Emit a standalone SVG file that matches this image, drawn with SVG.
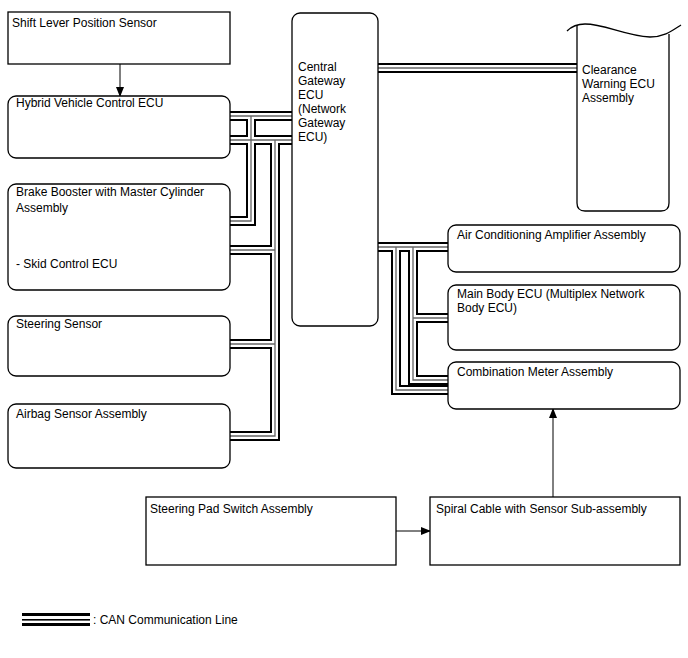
<svg xmlns="http://www.w3.org/2000/svg" width="688" height="658" viewBox="0 0 688 658">
<style>
text{font-family:"Liberation Sans",Arial,sans-serif;font-size:12px;fill:#000}
.box{fill:#fff;stroke:#000;stroke-width:1.3}
.arr{fill:none;stroke:#000;stroke-width:1}
.k{fill:none;stroke:#000;stroke-width:10;stroke-linejoin:miter}
.w{fill:none;stroke:#fff;stroke-width:6;stroke-linejoin:miter}
.g{fill:none;stroke:#666;stroke-width:1.3;stroke-linejoin:miter}
</style>
<defs>
<marker id="ah" markerWidth="10" markerHeight="8" refX="9" refY="4" orient="auto" markerUnits="userSpaceOnUse"><path d="M0,0 L10,4 L0,8 Z" fill="#000"/></marker>
<g id="can">
<path d="M230,116 H292"/>
<path d="M251,116 V221 H230"/>
<path d="M230,140 H292"/>
<path d="M275,140 V436 H230"/>
<path d="M275,250 H230"/>
<path d="M275,344 H230"/>
<path d="M378,68 H577"/>
<path d="M378,247 H448"/>
<path d="M413,247 V380 H448"/>
<path d="M413,318 H448"/>
<path d="M396,247 V390 H448"/>
</g>
</defs>
<rect width="688" height="658" fill="#fff"/>
<g id="connectors">
<use href="#can" class="k"/>
<use href="#can" class="w"/>
<use href="#can" class="g"/>
<path class="arr" d="M120,64 V96" marker-end="url(#ah)"/>
<path class="arr" d="M396,531 H430" marker-end="url(#ah)"/>
<path class="arr" d="M553,497 V409" marker-end="url(#ah)"/>
</g>
<g id="shift-lever"><rect class="box" x="8" y="12" width="222" height="52"/><text x="12" y="27">Shift Lever Position Sensor</text></g>
<g id="hybrid-ecu"><rect class="box" x="8" y="96" width="222" height="62" rx="8"/><text x="16" y="107">Hybrid Vehicle Control ECU</text></g>
<g id="brake-booster"><rect class="box" x="8" y="184" width="222" height="106" rx="8"/><text x="16" y="196">Brake Booster with Master Cylinder</text><text x="16" y="212">Assembly</text><text x="16" y="268">- Skid Control ECU</text></g>
<g id="steering-sensor"><rect class="box" x="8" y="316" width="222" height="60" rx="8"/><text x="16" y="328">Steering Sensor</text></g>
<g id="airbag"><rect class="box" x="8" y="404" width="222" height="64" rx="8"/><text x="16" y="418">Airbag Sensor Assembly</text></g>
<g id="gateway"><rect class="box" x="292" y="13" width="86" height="313" rx="8"/><text x="298" y="71">Central</text><text x="298" y="85">Gateway</text><text x="298" y="99">ECU</text><text x="298" y="113">(Network</text><text x="298" y="127">Gateway</text><text x="298" y="141">ECU)</text></g>
<g id="clearance"><path class="box" d="M577,25 V203 Q577,211 585,211 H661 Q669,211 669,203 V34"/><path d="M567,31 C572,26 577,24 585,24 C605,24 625,36 650,37 C665,37 673,30 681,25" fill="none" stroke="#000" stroke-width="1.3"/><text x="582" y="74">Clearance</text><text x="582" y="88">Warning ECU</text><text x="582" y="102">Assembly</text></g>
<g id="ac-amp"><rect class="box" x="448" y="225" width="232" height="47" rx="8"/><text x="457" y="239">Air Conditioning Amplifier Assembly</text></g>
<g id="main-body"><rect class="box" x="448" y="285" width="232" height="65" rx="8"/><text x="457" y="298">Main Body ECU (Multiplex Network</text><text x="457" y="312">Body ECU)</text></g>
<g id="combination-meter"><rect class="box" x="448" y="362" width="232" height="47" rx="8"/><text x="457" y="376">Combination Meter Assembly</text></g>
<g id="steering-pad"><rect class="box" x="146" y="497" width="250" height="68"/><text x="150" y="513">Steering Pad Switch Assembly</text></g>
<g id="spiral-cable"><rect class="box" x="430" y="497" width="250" height="68"/><text x="436" y="513">Spiral Cable with Sensor Sub-assembly</text></g>
<g id="legend"><rect x="22" y="613" width="68" height="3" fill="#000"/><rect x="22" y="619" width="68" height="1.6" fill="#000"/><rect x="22" y="623" width="68" height="3" fill="#000"/><text x="93" y="624">: CAN Communication Line</text></g>
</svg>
